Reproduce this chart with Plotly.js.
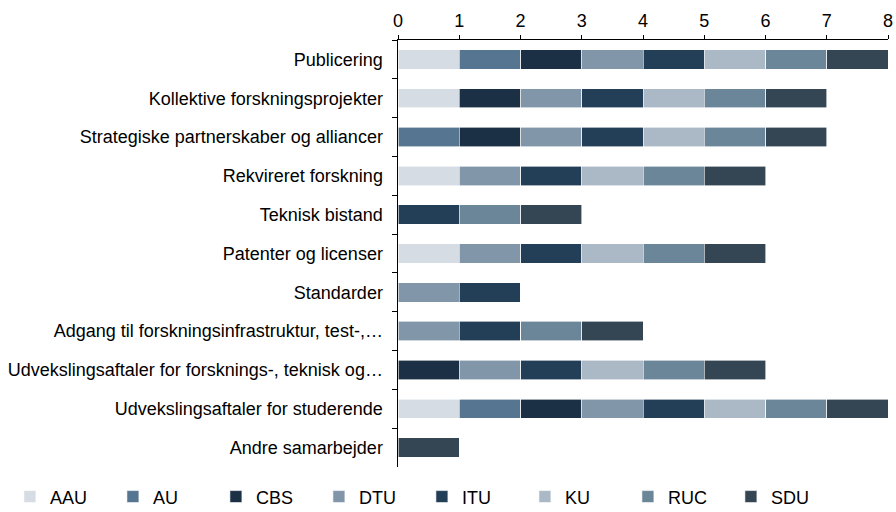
<!DOCTYPE html>
<html>
<head>
<meta charset="utf-8">
<script src="https://cdn.plot.ly/plotly-3.0.1.min.js"></script>
<style>
  html, body { margin: 0; padding: 0; background: #ffffff; }
  #chart { width: 896px; height: 512px; }
</style>
</head>
<body>
<div id="chart"></div>
<script>
// Collaboration types (top to bottom)
const categories = [
    'Publicering',
    'Kollektive forskningsprojekter',
    'Strategiske partnerskaber og alliancer',
    'Rekvireret forskning',
    'Teknisk bistand',
    'Patenter og licenser',
    'Standarder',
    'Adgang til forskningsinfrastruktur, test-,…',
    'Udvekslingsaftaler for forsknings-, teknisk og…',
    'Udvekslingsaftaler for studerende',
    'Andre samarbejder'
];

const universities = ['AAU', 'AU', 'CBS', 'DTU', 'ITU', 'KU', 'RUC', 'SDU'];

// 1 = the university reports this kind of collaboration
const aau = [1, 1, 0, 1, 0, 1, 0, 0, 0, 1, 0];
const au  = [1, 0, 1, 0, 0, 0, 0, 0, 0, 1, 0];
const cbs = [1, 1, 1, 0, 0, 0, 0, 0, 1, 1, 0];
const dtu = [1, 1, 1, 1, 0, 1, 1, 1, 1, 1, 0];
const itu = [1, 1, 1, 1, 1, 1, 1, 1, 1, 1, 0];
const ku  = [1, 1, 1, 1, 0, 1, 0, 0, 1, 1, 0];
const ruc = [1, 1, 1, 1, 1, 1, 0, 1, 1, 1, 0];
const sdu = [1, 1, 1, 1, 1, 1, 0, 1, 1, 1, 1];

const seriesValues = [aau, au, cbs, dtu, itu, ku, ruc, sdu];
const colors = ['#d5dce3', '#557590', '#1c3045', '#8196a9', '#233f57', '#abb9c6', '#6c8699', '#344554'];

const traces = universities.map((name, i) => ({
    type: 'bar',
    orientation: 'h',
    name: name,
    y: categories,
    x: seriesValues[i],
    marker: {
        color: colors[i],
        line: { color: '#ffffff', width: 0.6 }
    },
    hoverinfo: 'y+name'
}));

const layout = {
    width: 896,
    height: 512,
    barmode: 'stack',
    bargap: 0.5,
    paper_bgcolor: '#ffffff',
    plot_bgcolor: '#ffffff',
    font: { family: 'Liberation Sans, Arial, sans-serif', size: 18, color: '#000000' },
    margin: { l: 398, r: 8, t: 40, b: 45, autoexpand: false },
    xaxis: {
        side: 'top',
        range: [0, 8],
        dtick: 1,
        showgrid: false,
        zeroline: false,
        showline: true,
        linecolor: '#000000',
        linewidth: 1.5,
        ticks: 'outside',
        ticklen: 4,
        tickcolor: '#000000',
        tickfont: { size: 18 }
    },
    yaxis: {
        autorange: 'reversed',
        showgrid: false,
        showline: true,
        linecolor: '#000000',
        linewidth: 1.5,
        ticks: 'outside',
        tickson: 'boundaries',
        ticklen: 5,
        tickcolor: '#000000',
        ticklabelstandoff: 10,
        tickfont: { size: 18 }
    },
    showlegend: true,
    legend: {
        orientation: 'h',
        x: -0.792,
        y: -0.07,
        xanchor: 'left',
        yanchor: 'middle',
        traceorder: 'normal',
        entrywidth: 58,
        entrywidthmode: 'pixels',
        itemwidth: 30,
        font: { size: 18 }
    }
};

Plotly.newPlot('chart', traces, layout, { displayModeBar: false, staticPlot: true });
</script>
</body>
</html>
